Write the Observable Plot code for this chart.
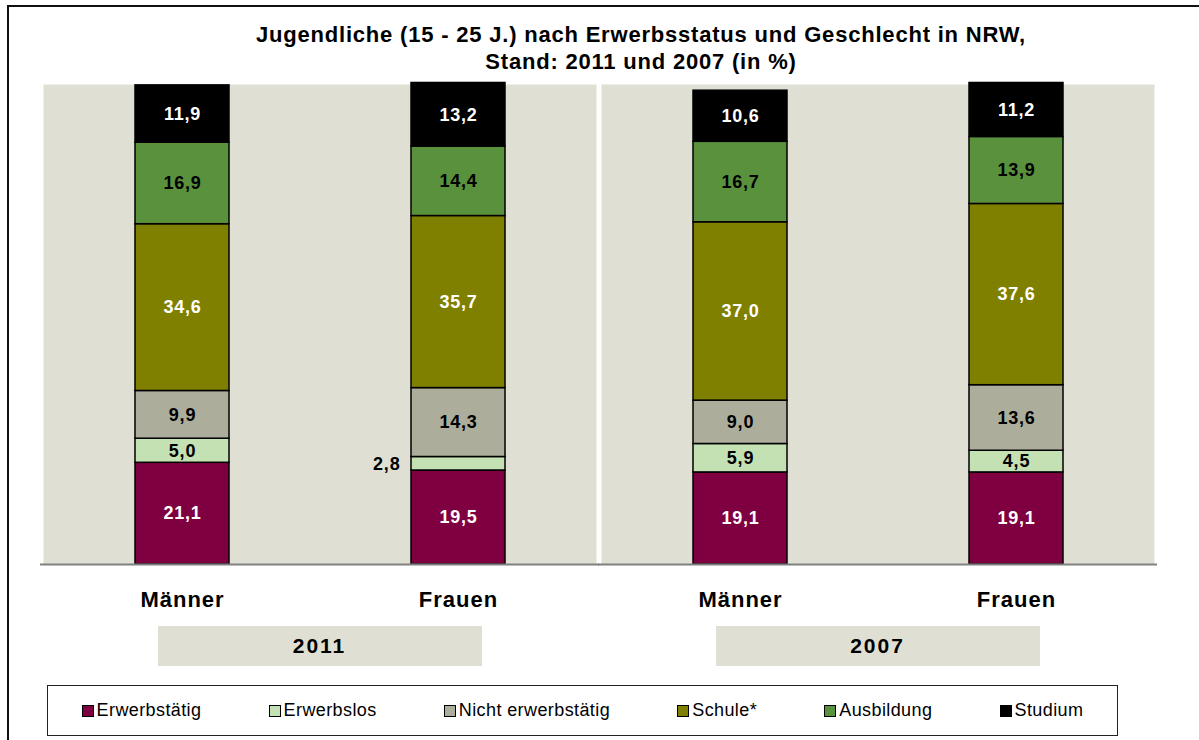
<!DOCTYPE html>
<html>
<head>
<meta charset="utf-8">
<script src="https://cdn.jsdelivr.net/npm/d3@7"></script>
<script src="https://cdn.jsdelivr.net/npm/@observablehq/plot@0.6"></script>
<style>
  html, body { margin: 0; padding: 0; background: #fff; }
  body { width: 1199px; height: 740px; overflow: hidden; font-family: "Liberation Sans", Arial, sans-serif; }
  #wrap { position: relative; width: 1199px; height: 740px; overflow: hidden; }
  #frame { position: absolute; left: 7px; top: 5px; width: 1300px; height: 900px; border: 2px solid #111; box-sizing: border-box; }
  #title { position: absolute; left: 141px; top: 21px; width: 1000px; text-align: center; font-weight: bold; font-size: 22px; line-height: 27px; letter-spacing: 0.8px; color: #000; }
  #chart { position: absolute; left: 0; top: 0; }
  #chart svg { font-family: "Liberation Sans", Arial, sans-serif; overflow: visible; }
  #chart g[aria-label="x-axis tick label"] text { letter-spacing: 1px; }
  .yearbox { position: absolute; height: 40px; width: 324px; background: #dfe0d3; text-align: center; line-height: 40px; font-weight: bold; font-size: 21px; letter-spacing: 2px; color: #000; }
  #legend { position: absolute; left: 47px; top: 685px; width: 1071px; height: 51px; border: 1.3px solid #222; box-sizing: border-box; display: flex; justify-content: space-around; align-items: center; }
  .item { display: flex; align-items: center; font-size: 18px; letter-spacing: 0.4px; color: #000; }
  .sw { width: 12px; height: 12px; border: 1px solid #000; margin-right: 3px; box-sizing: border-box; }
</style>
</head>
<body>
<div id="wrap">
  <div id="frame"></div>
  <div id="title"></div>
  <div id="chart"></div>
  <div id="legend"></div>
</div>
<script>
// ---- data ----
const titleLines = ["Jugendliche (15 - 25 J.) nach Erwerbsstatus und Geschlecht in NRW,", "Stand: 2011 und 2007 (in %)"];
const years = ["2011", "2007"];
const sexes = ["Männer", "Frauen"];
const statuses = ["Erwerbstätig", "Erwerbslos", "Nicht erwerbstätig", "Schule*", "Ausbildung", "Studium"];
const statusColors = ["#7f0040", "#c3e1b2", "#adad9b", "#808000", "#5a913c", "#000000"];
const labelColors = ["#ffffff", "#000000", "#000000", "#ffffff", "#000000", "#ffffff"];
// columns: 2011 Männer, 2011 Frauen, 2007 Männer, 2007 Frauen
const erwerbstaetig = [21.1, 19.5, 19.1, 19.1];
const erwerbslos = [5.0, 2.8, 5.9, 4.5];
const nichtErwerbstaetig = [9.9, 14.3, 9.0, 13.6];
const schule = [34.6, 35.7, 37.0, 37.6];
const ausbildung = [16.9, 14.4, 16.7, 13.9];
const studium = [11.9, 13.2, 10.6, 11.2];
const seriesValues = [erwerbstaetig, erwerbslos, nichtErwerbstaetig, schule, ausbildung, studium];

// ---- build table ----
const columns = years.flatMap(y => sexes.map(s => ({year: y, sex: s})));
const rows = [];
statuses.forEach((st, i) => {
  columns.forEach((c, j) => {
    rows.push({status: st, year: c.year, sex: c.sex, value: seriesValues[i][j], labelColor: labelColors[i]});
  });
});
const fmt = v => v.toFixed(1).replace(".", ",");
const small = 3;

document.getElementById("title").innerHTML = titleLines.join("<br>");

const stackOpts = (textFn) => Plot.stackY({fx: "year", x: "sex", y: "value", z: "status", text: textFn});

const plot = Plot.plot({
  width: 1199,
  height: 620,
  marginTop: 82,
  marginBottom: 56,
  marginLeft: 42,
  marginRight: 45,
  fx: {domain: years, paddingInner: 0.009, paddingOuter: 0, axis: null, label: null},
  x: {domain: sexes, paddingInner: 0.66, paddingOuter: 0.33, label: null},
  y: {domain: [0, 100], axis: null},
  color: {domain: statuses, range: statusColors},
  marks: [
    Plot.frame({fill: "#dfe0d3", stroke: null, insetTop: 2}),
    Plot.barY(rows, {fx: "year", x: "sex", y: "value", fill: "status", stroke: "#000", strokeWidth: 1.5}),
    Plot.text(rows, {...stackOpts(d => d.value >= small && d.labelColor === "#ffffff" ? fmt(d.value) : ""), fill: "#ffffff", fontSize: 18, fontWeight: "bold"}),
    Plot.text(rows, {...stackOpts(d => d.value >= small && d.labelColor === "#000000" ? fmt(d.value) : ""), fill: "#000000", fontSize: 18, fontWeight: "bold"}),
    Plot.text(rows, {...stackOpts(d => d.value < small ? fmt(d.value) : ""), fill: "#000000", fontSize: 18, fontWeight: "bold", textAnchor: "end", dx: -58}),
    Plot.ruleY([0], {stroke: "#808080", strokeWidth: 2, insetLeft: -3, insetRight: -3}),
    Plot.axisX({tickSize: 0, tickPadding: 27, fontSize: 22, fontWeight: "bold", label: null, fill: "#000"})
  ]
});
plot.querySelectorAll('g[aria-label="text"] text').forEach(t => t.style.letterSpacing = "0.8px");
document.getElementById("chart").appendChild(plot);

// year boxes positioned with the fx scale
const fxs = plot.scale("fx");
const wrap = document.getElementById("wrap");
years.forEach(y => {
  const cx = fxs.apply(y) + fxs.bandwidth / 2;
  const div = document.createElement("div");
  div.className = "yearbox";
  div.style.left = (cx - 162) + "px";
  div.style.top = "626px";
  div.textContent = y;
  wrap.appendChild(div);
});

// legend
const legend = document.getElementById("legend");
statuses.forEach((st, i) => {
  const item = document.createElement("div");
  item.className = "item";
  const sw = document.createElement("span");
  sw.className = "sw";
  sw.style.background = statusColors[i];
  const lab = document.createElement("span");
  lab.textContent = st;
  item.appendChild(sw);
  item.appendChild(lab);
  legend.appendChild(item);
});
</script>
</body>
</html>
